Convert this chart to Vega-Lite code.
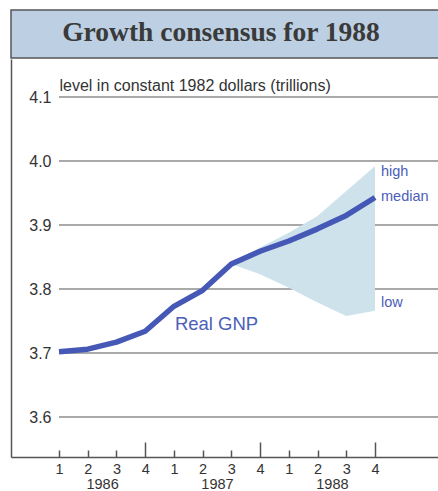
{
  "$schema": "https://vega.github.io/schema/vega-lite/v6.json",
  "padding": {"left": 10, "top": 9, "right": 0, "bottom": 0},
  "spacing": 0,
  "config": {"font": "Liberation Sans", "view": {"stroke": null}, "concat": {"spacing": 0}},
  "datasets": {
    "gnp": [
      {"year": 1986, "quarter": 1, "t": 0, "gnp": 3.702, "high": null, "low": null},
      {"year": 1986, "quarter": 2, "t": 1, "gnp": 3.706, "high": null, "low": null},
      {"year": 1986, "quarter": 3, "t": 2, "gnp": 3.717, "high": null, "low": null},
      {"year": 1986, "quarter": 4, "t": 3, "gnp": 3.734, "high": null, "low": null},
      {"year": 1987, "quarter": 1, "t": 4, "gnp": 3.773, "high": null, "low": null},
      {"year": 1987, "quarter": 2, "t": 5, "gnp": 3.798, "high": null, "low": null},
      {"year": 1987, "quarter": 3, "t": 6, "gnp": 3.839, "high": 3.839, "low": 3.839},
      {"year": 1987, "quarter": 4, "t": 7, "gnp": 3.859, "high": 3.865, "low": 3.823},
      {"year": 1988, "quarter": 1, "t": 8, "gnp": 3.875, "high": 3.888, "low": 3.802},
      {"year": 1988, "quarter": 2, "t": 9, "gnp": 3.894, "high": 3.914, "low": 3.779},
      {"year": 1988, "quarter": 3, "t": 10, "gnp": 3.915, "high": 3.953, "low": 3.758},
      {"year": 1988, "quarter": 4, "t": 11, "gnp": 3.943, "high": 3.992, "low": 3.766}
    ]
  },
  "vconcat": [
    {
      "width": 428,
      "height": 48,
      "data": {"values": [{"title": "Growth consensus for 1988"}]},
      "view": {"fill": "#bccfe3", "stroke": "#555555", "strokeWidth": 1.5},
      "mark": {"type": "text", "font": "Liberation Serif", "fontWeight": "bold", "fontSize": 27.5, "color": "#3a3a3a", "baseline": "middle", "dx": -4, "dy": -1},
      "encoding": {"text": {"field": "title"}}
    },
    {
      "width": 428,
      "height": 398,
      "layer": [
        {
          "data": {"values": [{"g": 3.6}, {"g": 3.7}, {"g": 3.8}, {"g": 3.9}, {"g": 4.0}, {"g": 4.1}]},
          "mark": {"type": "rule", "color": "#555555", "strokeWidth": 1.2},
          "encoding": {
            "y": {"field": "g", "type": "quantitative", "scale": {"domain": [3.5375, 4.1594], "nice": false, "zero": false}},
            "x": {"datum": 0, "type": "quantitative", "title": null, "scale": {"domain": [-1.671, 13.228], "nice": false, "zero": false}},
            "x2": {"datum": 13.228}
          }
        },
        {
          "data": {"name": "gnp"},
          "transform": [{"filter": "datum.high != null"}],
          "mark": {"type": "area", "color": "#cde2eb", "opacity": 1},
          "encoding": {
            "x": {"field": "t", "type": "quantitative", "title": null, "scale": {"domain": [-1.671, 13.228], "nice": false, "zero": false}},
            "y": {"field": "high", "type": "quantitative", "scale": {"domain": [3.5375, 4.1594], "nice": false, "zero": false}},
            "y2": {"field": "low"}
          }
        },
        {
          "data": {"name": "gnp"},
          "mark": {"type": "line", "color": "#4658b5", "strokeWidth": 5.5, "strokeJoin": "round"},
          "encoding": {
            "x": {
              "field": "t", "type": "quantitative", "title": null,
              "scale": {"domain": [-1.671, 13.228], "nice": false, "zero": false},
              "axis": {
                "values": [0, 1, 1.5, 2, 3, 4, 5, 5.5, 6, 7, 8, 9, 9.5, 10, 11],
                "tickCount": 100,
                "labelExpr": "datum.value == 1.5 ? '1986' : datum.value == 5.5 ? '1987' : datum.value == 9.5 ? '1988' : '' + (datum.value % 4 + 1)",
                "tickSize": {"expr": "datum.value % 1 != 0 ? 0 : (datum.value % 4 == 3 ? -15 : -7)"},
                "labelPadding": {"expr": "datum.value % 1 != 0 ? 27 : (datum.value % 4 == 3 ? 27 : 19)"},
                "grid": false,
                "domainColor": "#555555",
                "domainWidth": 1.5,
                "tickColor": "#555555",
                "tickWidth": 1.5,
                "labelFontSize": 14.5,
                "labelColor": "#333333",
                "labelBaseline": "middle",
                "labelAlign": "center",
                "labelOverlap": false,
                "labelFlush": false,
                "labelBound": false
              }
            },
            "y": {
              "field": "gnp", "type": "quantitative",
              "title": "level in constant 1982 dollars (trillions)",
              "scale": {"domain": [3.5375, 4.1594], "nice": false, "zero": false},
              "axis": {
                "orient": "left",
                "values": [3.6, 3.7, 3.8, 3.9, 4.0, 4.1],
                "format": ".1f",
                "grid": false,
                "ticks": false,
                "tickSize": 0,
                "domain": true,
                "domainColor": "#555555",
                "domainWidth": 1.5,
                "labelPadding": -40,
                "labelAlign": "right",
                "labelBaseline": "middle",
                "labelFontSize": 16,
                "labelColor": "#333333",
                "labelFlush": false,
                "title": "level in constant 1982 dollars (trillions)",
                "titleAngle": 0,
                "titleAlign": "left",
                "titleBaseline": "alphabetic",
                "titleX": 48,
                "titleY": 31,
                "titleFontSize": 16,
                "titleFontWeight": "normal",
                "titleColor": "#333333"
              }
            }
          }
        },
        {
          "data": {"name": "gnp"},
          "transform": [{"filter": "datum.t == 11"}],
          "mark": {"type": "text", "text": "high", "align": "left", "baseline": "middle", "dx": 6, "dy": 6, "fontSize": 14.5, "color": "#4a60b8"},
          "encoding": {
            "x": {"field": "t", "type": "quantitative"},
            "y": {"field": "high", "type": "quantitative"}
          }
        },
        {
          "data": {"name": "gnp"},
          "transform": [{"filter": "datum.t == 11"}],
          "mark": {"type": "text", "text": "median", "align": "left", "baseline": "middle", "dx": 6, "dy": 0, "fontSize": 14.5, "color": "#4a60b8"},
          "encoding": {
            "x": {"field": "t", "type": "quantitative"},
            "y": {"field": "gnp", "type": "quantitative"}
          }
        },
        {
          "data": {"name": "gnp"},
          "transform": [{"filter": "datum.t == 11"}],
          "mark": {"type": "text", "text": "low", "align": "left", "baseline": "middle", "dx": 6, "dy": -8, "fontSize": 14.5, "color": "#4a60b8"},
          "encoding": {
            "x": {"field": "t", "type": "quantitative"},
            "y": {"field": "low", "type": "quantitative"}
          }
        },
        {
          "data": {"name": "gnp"},
          "transform": [{"filter": "datum.t == 4"}],
          "mark": {"type": "text", "text": "Real GNP", "align": "left", "baseline": "alphabetic", "dx": 1, "dy": 24, "fontSize": 18.5, "color": "#4a60b8"},
          "encoding": {
            "x": {"field": "t", "type": "quantitative"},
            "y": {"field": "gnp", "type": "quantitative"}
          }
        }
      ]
    }
  ]
}
